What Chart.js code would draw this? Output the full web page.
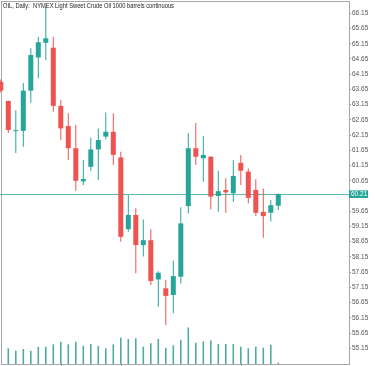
<!DOCTYPE html>
<html><head><meta charset="utf-8">
<script src="https://cdn.jsdelivr.net/npm/chart.js@4.4.1/dist/chart.umd.min.js"></script>
<style>html,body{margin:0;padding:0;background:#fff;overflow:hidden}</style>
</head><body>
<canvas id="c" width="375" height="366" style="display:block;width:375px;height:366px"></canvas>
<script>
const chartTitle = "OIL, Daily:  NYMEX Light Sweet Crude Oil 1000 barrels continuous";
const opens  = [63.90,63.27,62.28,62.29,63.61,64.70,65.18,65.02,63.11,62.45,61.72,60.63,61.11,61.68,62.10,62.26,61.42,59.06,59.53,58.54,58.70,57.41,57.12,56.90,57.50,59.82,61.72,61.39,61.44,60.15,60.35,60.24,61.24,60.95,60.35,59.63,59.60,59.83];
const highs  = [63.98,63.29,62.97,63.86,65.00,65.38,66.38,65.38,63.30,62.87,62.48,61.33,62.06,62.37,62.89,62.87,61.60,60.18,59.75,59.38,59.06,57.68,57.39,58.03,59.78,62.21,62.56,62.12,61.46,60.98,60.73,61.33,61.50,61.05,60.70,60.40,60.02,60.23];
const lows   = [63.55,62.22,61.56,61.77,63.21,64.02,64.62,62.92,61.99,61.33,60.32,60.51,60.97,60.68,62.01,61.17,58.65,58.98,57.61,58.16,57.23,56.51,55.91,56.30,57.28,59.58,61.17,60.62,59.71,59.63,59.60,59.96,60.51,59.91,59.49,58.78,59.31,59.69];
const closes = [63.61,62.32,62.31,63.61,64.78,65.20,65.33,63.11,62.37,61.72,60.65,60.71,61.68,61.99,62.26,61.50,58.81,59.53,58.54,58.70,57.36,57.63,56.87,57.52,59.25,61.72,61.44,61.50,60.13,60.31,60.27,60.81,60.98,60.09,59.60,59.49,59.85,60.21];
const volumes = [null,157,133,150,133,170,173,197,223,197,223,183,200,180,157,197,263,250,257,173,207,250,163,187,240,365,213,227,237,200,200,200,173,157,173,163,193,13];
const priceTicks = [66.15,65.65,65.15,64.65,64.15,63.65,63.15,62.65,62.15,61.65,61.15,60.65,59.65,59.15,58.65,58.15,57.65,57.15,56.65,56.15,55.65,55.15];
const lastPrice = 60.21;
const dateTickIdx = [8,16,32];

const TEAL = '#26a69a', RED = '#ef5350';
const idx = opens.map((_, i) => i);
const colorOf = i => closes[i] >= opens[i] ? TEAL : RED;

const custom = {
  id: 'custom',
  beforeDatasetsDraw(chart) {
    const {ctx, chartArea: a, scales: {y}} = chart;
    ctx.save();
    ctx.strokeStyle = '#a8a8a8'; ctx.lineWidth = 1;
    ctx.strokeRect(1.5, 1.5, 348, 363);
    const py = Math.round(y.getPixelForValue(lastPrice)) + 0.5;
    ctx.strokeStyle = '#5fb8ae';
    ctx.beginPath(); ctx.moveTo(a.left, py); ctx.lineTo(a.right, py); ctx.stroke();
    ctx.restore();
  },
  afterDraw(chart) {
    const {ctx, chartArea: a, scales: {x, y}} = chart;
    ctx.save();
    ctx.fillStyle = '#222';
    ctx.font = '6.5px "Liberation Sans"';
    ctx.textBaseline = 'alphabetic';
    ctx.fillText(chartTitle, 3, 7.5, 171);
    const py = y.getPixelForValue(lastPrice);
    ctx.fillStyle = TEAL;
    ctx.fillRect(349, py - 3.8, 19, 7.6);
    ctx.fillStyle = '#fff';
    ctx.textBaseline = 'middle';
    ctx.fillText(lastPrice.toFixed(2), 351, py + 0.3);
    ctx.strokeStyle = '#999'; ctx.lineWidth = 1;
    dateTickIdx.forEach(i => {
      const px = Math.round(x.getPixelForValue(i)) + 0.5;
      ctx.beginPath(); ctx.moveTo(px, a.bottom); ctx.lineTo(px, 366); ctx.stroke();
    });
    ctx.restore();
  }
};

new Chart(document.getElementById('c'), {
  type: 'bar',
  data: {
    datasets: [
      { label: 'Volume', yAxisID: 'yv', data: idx.map(i => ({x: i, y: volumes[i]})),
        backgroundColor: '#52a9a0', maxBarThickness: 1.6, grouped: false, order: 3 },
      { label: 'Wick', yAxisID: 'y', data: idx.map(i => ({x: i, y: [lows[i], highs[i]]})),
        backgroundColor: idx.map(colorOf), maxBarThickness: 1, grouped: false, order: 2 },
      { label: 'Body', yAxisID: 'y', data: idx.map(i => ({x: i, y: [opens[i], closes[i]]})),
        backgroundColor: idx.map(colorOf), maxBarThickness: 5, minBarLength: 1, grouped: false, order: 1 }
    ]
  },
  options: {
    responsive: false, animation: false, devicePixelRatio: 1,
    layout: { padding: { left: 0, right: 0, top: 1, bottom: 2 } },
    plugins: { legend: { display: false }, tooltip: { enabled: false }, title: { display: false } },
    scales: {
      x: { type: 'linear', min: -0.107, max: 46.427, offset: false, display: false, grid: { offset: false } },
      yv: { display: false, min: 0, max: 3630 },
      y: {
        position: 'right', min: 54.634, max: 66.554,
        afterBuildTicks: s => { s.ticks = priceTicks.map(v => ({value: v})); },
        afterFit: s => { s.width = 26; s.paddingTop = 0; s.paddingBottom = 0; },
        ticks: { font: { family: 'Liberation Sans', size: 6.5 }, color: '#555', padding: 1,
                 autoSkip: false, maxRotation: 0, callback: v => Number(v).toFixed(2) },
        grid: { drawOnChartArea: false, drawTicks: true, tickLength: 2, color: '#999' },
        border: { display: true, color: '#999' }
      }
    }
  },
  plugins: [custom]
});
</script>
</body></html>
